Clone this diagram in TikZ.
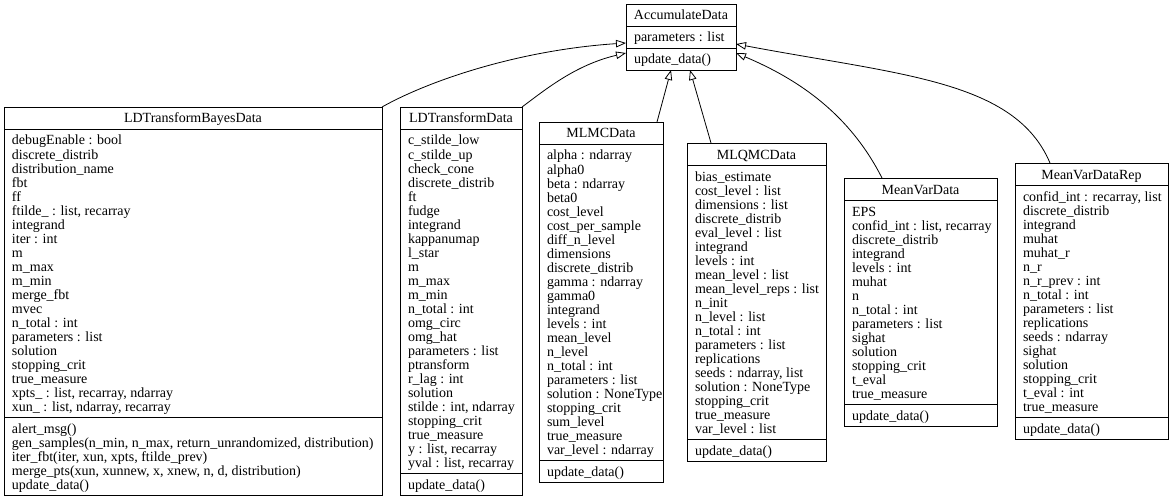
\documentclass[tikz,border=0pt]{standalone}
\usepackage{fontspec}
\setmainfont{Liberation Serif}
\usetikzlibrary{arrows.meta}
\tikzset{
  boxline/.style={draw=black, line width=0.9pt},
  txt/.style={inner sep=0pt, outer sep=0pt, font=\fontsize{14}{14}\selectfont},
  inh/.style={line width=0.8pt, -{Triangle[open, length=10pt, width=7.5pt]}},
}
\newcommand\umlclass[9]{%
  % #1 name, #2 left, #3 top, #4 right, #5 title, #6 n attrs, #7 attrs, #8 n methods, #9 methods
  \pgfmathsetmacro\ya{#3+22}%
  \pgfmathsetmacro\yb{\ya+14*#6+8}%
  \pgfmathsetmacro\yc{\yb+14*#8+8}%
  \node[boxline, anchor=north west, inner sep=0pt, outer sep=0pt,
        minimum width=#4-#2, minimum height=\yc-#3] (#1) at (#2,#3) {};
  \draw[boxline] (#2,\ya) -- (#4,\ya);
  \draw[boxline] (#2,\yb) -- (#4,\yb);
  \node[txt, anchor=base] (#1-t) at ({(#2+#4)/2},#3+16) {#5};
  \foreach \s [count=\i] in {#7}
    \node[txt, anchor=base west] (#1-a\i) at (#2+8,\ya+2+14*\i) {\s};
  \foreach \s [count=\i] in {#9}
    \node[txt, anchor=base west] (#1-m\i) at (#2+8,\yb+2+14*\i) {\s};
}
\begin{document}
\begin{tikzpicture}[x=1pt,y=-1pt]
\fill[white] (0,0) rectangle (1172,500);
\useasboundingbox (0,0) rectangle (1172,500);

\umlclass{acc}{626}{4}{736}{AccumulateData}{1}{parameters : list}{1}{update\_data()}

\umlclass{ldtbd}{4}{107}{382}{LDTransformBayesData}{20}{debugEnable : bool, discrete\_distrib, distribution\_name, fbt, ff, {ftilde\_ : list, recarray}, integrand, iter : int, m, m\_max, m\_min, merge\_fbt, mvec, n\_total : int, parameters : list, solution, stopping\_crit, true\_measure, {xpts\_ : list, recarray, ndarray}, {xun\_ : list, ndarray, recarray}}{5}{alert\_msg(), {gen\_samples(n\_min, n\_max, return\_unrandomized, distribution)}, {iter\_fbt(iter, xun, xpts, ftilde\_prev)}, {merge\_pts(xun, xunnew, x, xnew, n, d, distribution)}, update\_data()}

\umlclass{ldtd}{400}{107}{522}{LDTransformData}{24}{c\_stilde\_low, c\_stilde\_up, check\_cone, discrete\_distrib, ft, fudge, integrand, kappanumap, l\_star, m, m\_max, m\_min, n\_total : int, omg\_circ, omg\_hat, parameters : list, ptransform, r\_lag : int, solution, {stilde : int, ndarray}, stopping\_crit, true\_measure, {y : list, recarray}, {yval : list, recarray}}{1}{update\_data()}

\umlclass{mlmc}{539}{122}{663}{MLMCData}{22}{alpha : ndarray, alpha0, beta : ndarray, beta0, cost\_level, cost\_per\_sample, diff\_n\_level, dimensions, discrete\_distrib, gamma : ndarray, gamma0, integrand, levels : int, mean\_level, n\_level, n\_total : int, parameters : list, solution : NoneType, stopping\_crit, sum\_level, true\_measure, var\_level : ndarray}{1}{update\_data()}

\umlclass{mlqmc}{687}{143}{826}{MLQMCData}{19}{bias\_estimate, cost\_level : list, dimensions : list, discrete\_distrib, eval\_level : list, integrand, levels : int, mean\_level : list, mean\_level\_reps : list, n\_init, n\_level : list, n\_total : int, parameters : list, replications, {seeds : ndarray, list}, solution : NoneType, stopping\_crit, true\_measure, var\_level : list}{1}{update\_data()}

\umlclass{mvd}{844}{178}{997}{MeanVarData}{14}{EPS, {confid\_int : list, recarray}, discrete\_distrib, integrand, levels : int, muhat, n, n\_total : int, parameters : list, sighat, solution, stopping\_crit, t\_eval, true\_measure}{1}{update\_data()}

\umlclass{mvdr}{1015}{163}{1168}{MeanVarDataRep}{16}{{confid\_int : recarray, list}, discrete\_distrib, integrand, muhat, muhat\_r, n\_r, n\_r\_prev : int, n\_total : int, parameters : list, replications, seeds : ndarray, sighat, solution, stopping\_crit, t\_eval : int, true\_measure}{1}{update\_data()}

\draw[inh] (ldtbd.north east) .. controls (430,80) and (520,50) .. (acc.west |- 0,43);
\draw[inh] (ldtd.north east) .. controls (545,90) and (575,65) .. (acc.west |- 0,53);
\draw[inh] (mlmc.north -| 657,0) -- (acc.south -| 671,0);
\draw[inh] (mlqmc.north -| 711,0) -- (acc.south -| 690,0);
\draw[inh] (mvd.north -| 882,0) .. controls (850,115) and (800,80) .. (acc.east |- 0,53);
\draw[inh] (mvdr.north -| 1050,0) .. controls (1015,80) and (900,75) .. (acc.east |- 0,44);
\end{tikzpicture}
\end{document}
